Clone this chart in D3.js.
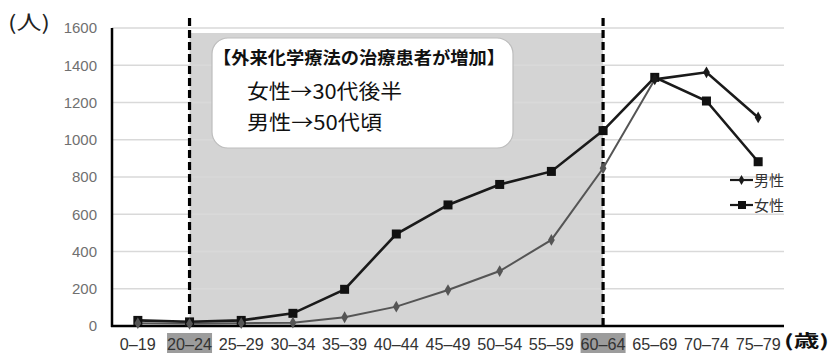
<!DOCTYPE html>
<html><head><meta charset="utf-8">
<script src="https://cdn.jsdelivr.net/npm/d3@7"></script>
<style>body{margin:0;background:#fff}svg{display:block}</style>
</head><body><svg id="c" width="831" height="353"></svg>
<script>
const categories = ["0–19","20–24","25–29","30–34","35–39","40–44","45–49","50–54","55–59","60–64","65–69","70–74","75–79"];
const male = [15,12,15,18,47,104,193,295,462,847,1324,1362,1120];
const female = [30,22,30,68,197,494,650,760,830,1049,1335,1208,882];
const yTicks = [0,200,400,600,800,1000,1200,1400,1600];
const highlighted = ["20–24","60–64"];
const shadeRange = ["20–24","60–64"];
const boxTitle = "【外来化学療法の治療患者が増加】";
const boxLines = ["女性→30代後半","男性→50代頃"];
const legendNames = ["男性","女性"];

const svg = d3.select("#c");
const x = d3.scaleBand().domain(categories).range([112,784]);
const cx = d => x(d) + x.bandwidth()/2;
const y = d3.scaleLinear().domain([0,1600]).range([326,28]);

// shade
const sx0 = cx(shadeRange[0]), sx1 = cx(shadeRange[1]);
svg.append("rect").attr("x",sx0).attr("y",33).attr("width",sx1-sx0).attr("height",y(0)-33).attr("fill","#d4d4d4");

// gridlines
svg.append("g").selectAll("line").data(yTicks.filter(d=>d>0)).join("line")
  .attr("x1",112).attr("x2",784).attr("y1",d=>y(d)).attr("y2",d=>y(d))
  .attr("stroke","#d9d9d9").attr("stroke-width",1.5);

// y axis tick labels
const ya = svg.append("g").attr("transform","translate(112,0)")
  .call(d3.axisLeft(y).tickValues(yTicks).tickFormat(d3.format("d")).tickSize(0).tickPadding(15));
ya.select(".domain").remove();
ya.selectAll("text").attr("font-family","Liberation Sans, Arial, sans-serif").attr("font-size",15).attr("fill","#707070");

// annotation box
svg.append("rect").attr("x",212).attr("y",38).attr("width",301).attr("height",110).attr("rx",16)
  .attr("fill","#fff").attr("stroke","#bdbdbd").attr("stroke-width",1.2);
svg.append("text").attr("x",213).attr("y",64).text(boxTitle)
  .attr("font-family","Noto Sans CJK JP").attr("font-weight","bold").attr("font-size",17.5).attr("fill","#111")
  .attr("textLength",292).attr("lengthAdjust","spacingAndGlyphs");
boxLines.forEach((t,i)=>{
  svg.append("text").attr("x",247).attr("y",99+i*31).text(t)
    .attr("font-family","Noto Sans CJK JP").attr("font-size",20).attr("fill","#111")
    .attr("textLength",i===0?155:135).attr("lengthAdjust","spacingAndGlyphs");
});

// dashed lines
[sx0,sx1].forEach(xx=>{
  svg.append("line").attr("x1",xx).attr("x2",xx).attr("y1",18).attr("y2",326)
    .attr("stroke","#000").attr("stroke-width",3.2).attr("stroke-dasharray","8,4");
});

// axes lines
svg.append("line").attr("x1",112).attr("x2",112).attr("y1",28).attr("y2",327).attr("stroke","#000").attr("stroke-width",2.5);
svg.append("line").attr("x1",111).attr("x2",784).attr("y1",326).attr("y2",326).attr("stroke","#000").attr("stroke-width",2.5);

// lines
const line = d3.line().x(d=>cx(d[0])).y(d=>y(d[1]));
const fData = categories.map((c,i)=>[c,female[i]]);
const mData = categories.map((c,i)=>[c,male[i]]);
svg.append("path").attr("d",line(fData)).attr("fill","none").attr("stroke","#1a1a1a").attr("stroke-width",2.6);
svg.append("path").attr("d",line(mData.slice(0,11))).attr("fill","none").attr("stroke","#555").attr("stroke-width",2);
svg.append("path").attr("d",line(mData.slice(10))).attr("fill","none").attr("stroke","#1a1a1a").attr("stroke-width",2.6);

// markers
svg.append("g").selectAll("rect").data(fData).join("rect")
  .attr("x",d=>cx(d[0])-4.5).attr("y",d=>y(d[1])-4.5).attr("width",9).attr("height",9).attr("fill","#111");
const diamond = d3.symbol().type(d3.symbolDiamond).size(40);
svg.append("g").selectAll("path").data(mData).join("path")
  .attr("transform",d=>`translate(${cx(d[0])},${y(d[1])})`).attr("d",diamond)
  .attr("fill",(d,i)=>i>=10?"#1a1a1a":"#555");

// x labels
categories.forEach(c=>{
  if(highlighted.includes(c)){
    svg.append("rect").attr("x",cx(c)-22.5).attr("y",333).attr("width",45).attr("height",20).attr("fill","#9c9c9c");
  }
  svg.append("text").attr("x",cx(c)).attr("y",350).attr("text-anchor","middle").text(c)
    .attr("font-family","Liberation Sans, Arial, sans-serif").attr("font-size",16).attr("fill","#333")
    .attr("textLength",c.length>4?45:36).attr("lengthAdjust","spacingAndGlyphs");
});

// unit labels
svg.append("text").attr("x",8).attr("y",30).text("(人)").attr("font-family","Noto Sans CJK JP").attr("font-size",20).attr("fill","#222")
  .attr("textLength",42).attr("lengthAdjust","spacingAndGlyphs");
svg.append("text").attr("x",784).attr("y",347).text("(歳)").attr("font-family","Noto Sans CJK JP").attr("font-weight","bold").attr("font-size",17).attr("fill","#111")
  .attr("textLength",45).attr("lengthAdjust","spacingAndGlyphs");

// legend
legendNames.forEach((n,i)=>{
  const ly = 180 + i*25;
  const g = svg.append("g");
  g.append("line").attr("x1",730).attr("x2",753).attr("y1",ly).attr("y2",ly).attr("stroke","#1a1a1a").attr("stroke-width",2.2);
  if(i===0) g.append("path").attr("transform",`translate(741.5,${ly})`).attr("d",d3.symbol().type(d3.symbolDiamond).size(30)).attr("fill","#1a1a1a");
  else g.append("rect").attr("x",738).attr("y",ly-4).attr("width",8).attr("height",8).attr("fill","#111");
  g.append("text").attr("x",754).attr("y",ly+5.5).text(n).attr("font-family","Noto Sans CJK JP").attr("font-size",15).attr("fill","#333");
});
</script></body></html>
